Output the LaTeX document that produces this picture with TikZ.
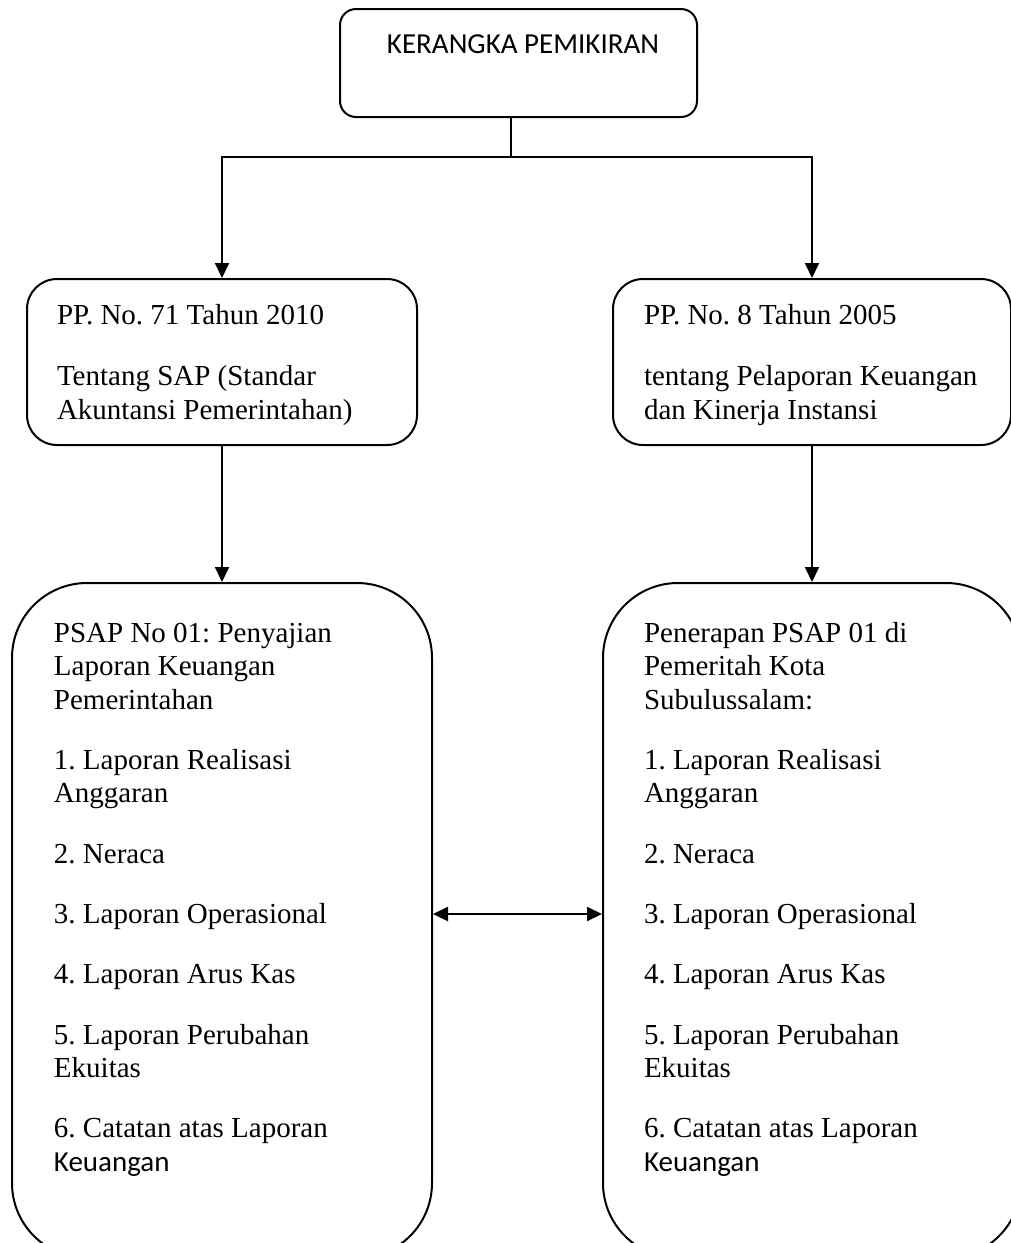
\documentclass[tikz,border=0pt]{standalone}
\usepackage{fontspec}
\setmainfont{Liberation Serif}
\newfontfamily\calibri{Carlito}
\usetikzlibrary{arrows.meta}
\frenchspacing

\tikzset{
  box/.style={draw,line width=1pt,inner sep=0pt},
  txt/.style={inner sep=0pt,anchor=base west,align=left,font=\fontsize{14.5}{16.6}\selectfont},
}

\begin{document}
\begin{tikzpicture}[x=0.5pt,y=-0.5pt,>={Triangle[length=7.5pt,width=7pt]},line width=1pt]
  \useasboundingbox (0,0) rectangle (1011,1243);

  \node[box,rounded corners=8pt,minimum width=178.5pt,minimum height=54pt] (frame) at (518.5,63) {};
  \node[inner sep=0pt,anchor=base,font=\calibri\fontsize{14.5}{16.6}\selectfont] (frametext) at (523,53) {KERANGKA PEMIKIRAN};

  \node[box,rounded corners=15pt,minimum width=195pt,minimum height=83pt] (pp71) at (222,362) {};
  \node[box,rounded corners=15pt,minimum width=199pt,minimum height=83pt] (pp8) at (812,362) {};
  \node[box,rounded corners=37.5pt,minimum width=210pt,minimum height=337.5pt] (psap) at (222,920.5) {};
  \node[box,rounded corners=37.5pt,minimum width=209pt,minimum height=337.5pt] (terap) at (812,920.5) {};

  \node[txt] (pp71text) at (56,419) {PP. No. 71 Tahun 2010\\[13.9pt]
    Tentang SAP (Standar\\ Akuntansi Pemerintahan)};
  \node[txt] (pp8text) at (643,419) {PP. No. 8 Tahun 2005\\[13.9pt]
    tentang Pelaporan Keuangan\\ dan Kinerja Instansi};
  \node[txt] (psaptext) at (53,1171) {PSAP No 01: Penyajian\\ Laporan Keuangan\\ Pemerintahan\\[13.6pt]
    1. Laporan Realisasi\\ Anggaran\\[13.6pt]
    2. Neraca\\[13.6pt]
    3. Laporan Operasional\\[13.6pt]
    4. Laporan Arus Kas\\[13.6pt]
    5. Laporan Perubahan\\ Ekuitas\\[13.6pt]
    6. Catatan atas Laporan\\ {\calibri Keuangan}};
  \node[txt] (teraptext) at (643,1171) {Penerapan PSAP 01 di\\ Pemeritah Kota\\ Subulussalam:\\[13.6pt]
    1. Laporan Realisasi\\ Anggaran\\[13.6pt]
    2. Neraca\\[13.6pt]
    3. Laporan Operasional\\[13.6pt]
    4. Laporan Arus Kas\\[13.6pt]
    5. Laporan Perubahan\\ Ekuitas\\[13.6pt]
    6. Catatan atas Laporan\\ {\calibri Keuangan}};

  \coordinate (split) at (511,157);
  \coordinate (link) at (517,914);
  \draw (frame.south -| split) -- (split);
  \draw[->] (split) -| (pp71.north);
  \draw[->] (split) -| (pp8.north);
  \draw[->] (pp71.south) -- (psap.north);
  \draw[->] (pp8.south) -- (terap.north);
  \draw[<->] (psap.east |- link) -- (terap.west |- link);
\end{tikzpicture}
\end{document}
